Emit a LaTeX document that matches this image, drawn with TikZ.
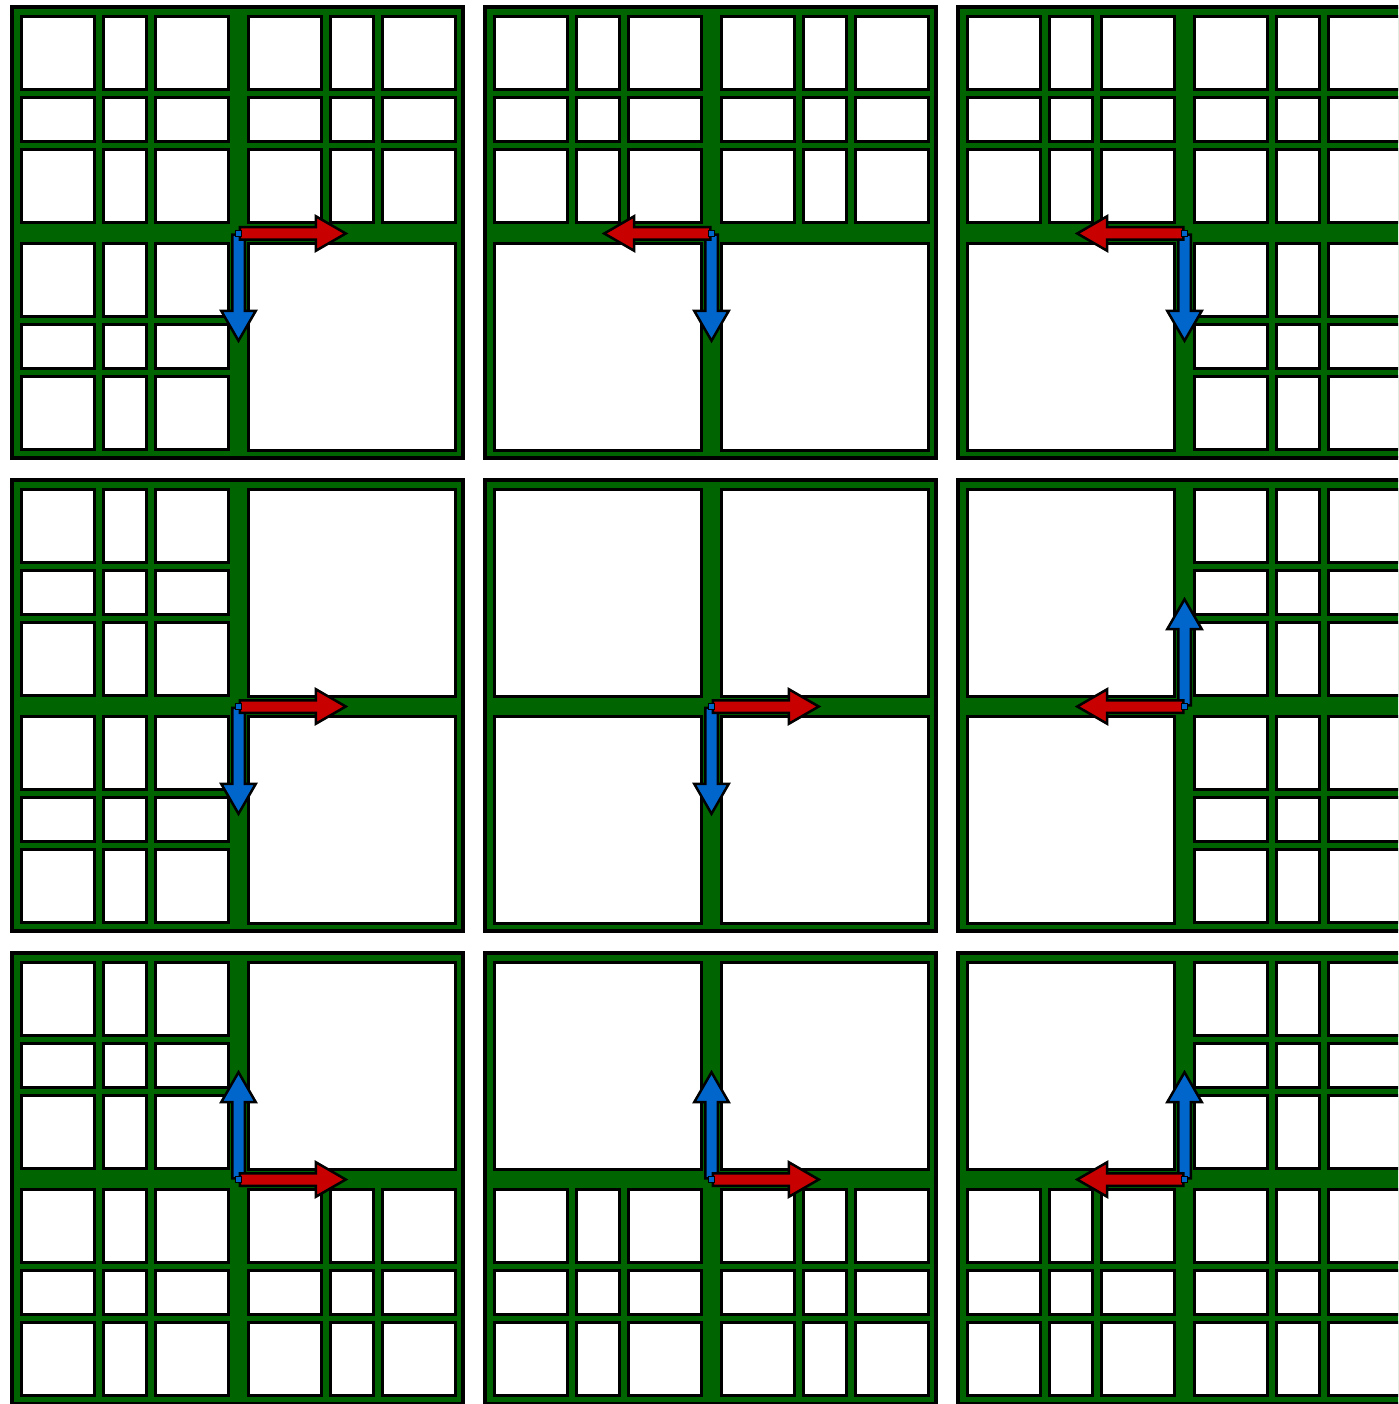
\documentclass[tikz,border=0pt]{standalone}
\usepackage{tikz}
\usepackage{xcolor}
\usetikzlibrary{shapes.arrows}

\definecolor{wallgreen}{RGB}{0,100,0}
\definecolor{flowred}{RGB}{200,0,0}
\definecolor{flowblue}{RGB}{0,102,204}

\begin{document}
\begin{tikzpicture}[
  x=1pt, y=-1pt,
  wall/.style={fill=wallgreen, draw=black, line width=4pt},
  cell/.style={fill=white, draw=black, line width=3pt},
  flow/.style={single arrow, draw=black, line width=2.5pt, inner sep=5pt, minimum width=0pt,
    minimum height=106pt, single arrow head extend=11pt, single arrow tip angle=60, anchor=tail},
  redflow/.style={flow, fill=flowred},
  blueflow/.style={flow, fill=flowblue},
  pivot/.style={draw=black, fill=flowblue, line width=1pt, minimum size=6pt, inner sep=0pt},
]

\useasboundingbox (0,0) rectangle (1398,1404);
\clip (0,0) rectangle (1398,1404);
\fill[white] (0,0) rectangle (1398,1404);

% column / row / split of TL TR BL BR / red angle / blue angle
\foreach \c/\r/\tl/\tr/\bl/\br/\ra/\ba in {
    1/1/1/1/1/0/0/-90, 2/1/1/1/0/0/180/-90, 3/1/1/1/0/1/180/-90,
    1/2/1/0/1/0/0/-90, 2/2/0/0/0/0/0/-90,   3/2/0/1/0/1/180/90,
    1/3/1/0/1/1/0/90,  2/3/0/0/1/1/0/90,    3/3/0/1/1/1/180/90}{
  \pgfmathsetmacro{\ox}{10+473*(\c-1)}
  \pgfmathsetmacro{\oy}{5+473*(\r-1)}

  % outer frame
  \draw[wall] ({\ox+2},{\oy+2}) rectangle ({\ox+453},{\oy+453});

  % quadrants, split into 3x3 rooms or left whole
  \foreach \qx/\qy/\f in {13/13/\tl, 240/13/\tr, 13/240/\bl, 240/240/\br}{
    \ifnum\f=1
      \foreach \sx/\sw in {0/70, 82/40, 134/70}
        \foreach \sy/\sh in {0/70, 81/41, 133/70}
          \draw[cell] ({\ox+\qx+\sx-1.5},{\oy+\qy+\sy-1.5}) rectangle ++({\sw+3},{\sh+3});
    \else
      \draw[cell] ({\ox+\qx-1.5},{\oy+\qy-1.5}) rectangle ++(207,207);
    \fi
  }

  % direction arrows
  \coordinate (ctr-\c-\r) at ({\ox+228.5},{\oy+228.5});
  \node[blueflow, rotate=\ba] (blue-\c-\r) at (ctr-\c-\r) {};
  \node[redflow, rotate=\ra] (red-\c-\r) at (ctr-\c-\r) {};
  \node[pivot] (pivot-\c-\r) at (ctr-\c-\r) {};
}

\end{tikzpicture}
\end{document}
